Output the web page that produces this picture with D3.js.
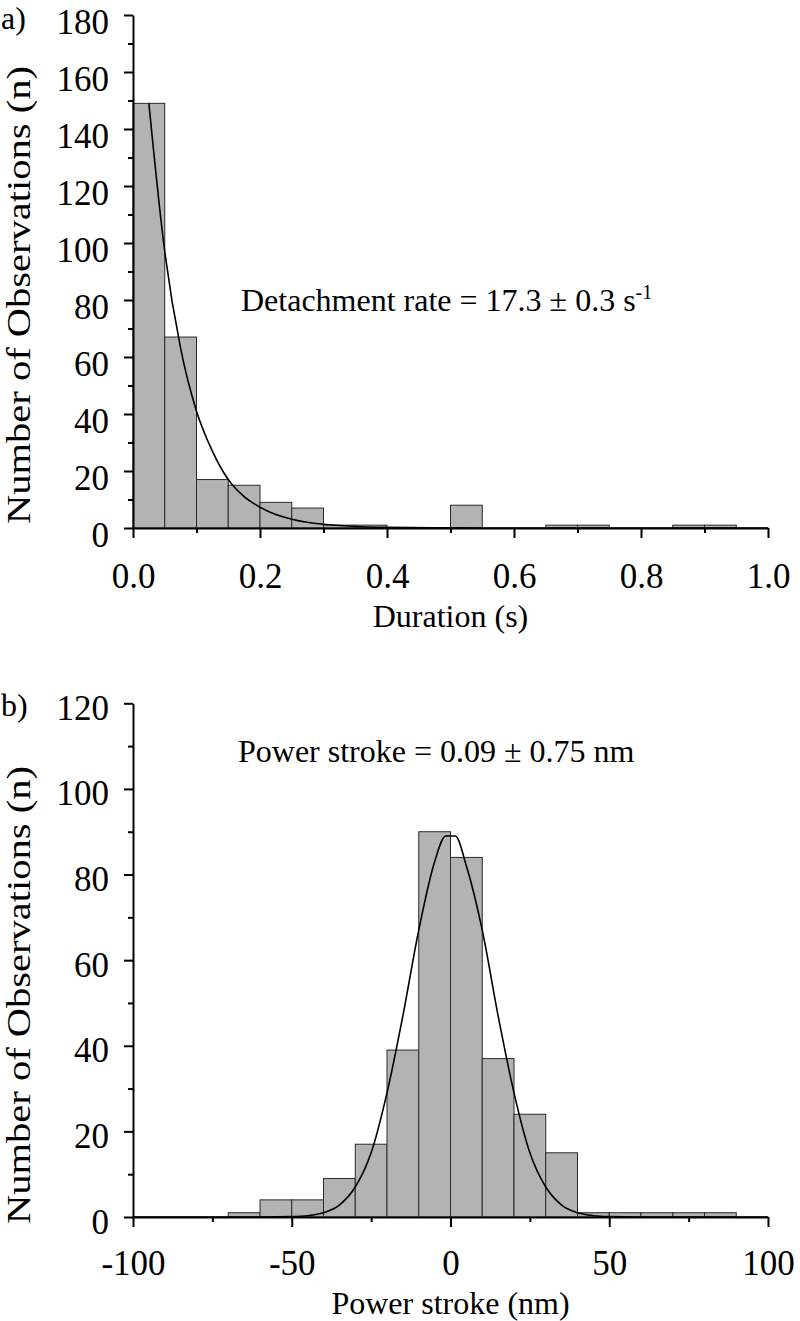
<!DOCTYPE html>
<html>
<head>
<meta charset="utf-8">
<script src="https://cdn.jsdelivr.net/npm/d3@7"></script>
<style>
  html, body { margin: 0; padding: 0; background: #fff; }
  svg { display: block; font-family: "Liberation Serif", "Times New Roman", serif; }
</style>
</head>
<body>
<svg id="chart" width="800" height="1321"></svg>
<script>
// ---------------- DATA ----------------
// Panel a: detachment durations (bin width 0.05 s)
const durationBinStarts = [0, 0.05, 0.10, 0.15, 0.20, 0.25, 0.30, 0.35, 0.40, 0.45, 0.50, 0.55, 0.60, 0.65, 0.70, 0.75, 0.80, 0.85, 0.90, 0.95];
const durationCounts    = [149, 67, 17, 15, 9, 7, 1, 1, 0, 0, 8, 0, 0, 1, 1, 0, 0, 1, 1, 0];
const durationBinWidth = 0.05;
// Fitted exponential curve
const durationFitX = [0.025, 0.05, 0.075, 0.10, 0.125, 0.15, 0.175, 0.20, 0.225, 0.25, 0.30, 0.35, 0.40, 0.50, 0.60, 1.00];
const durationFitY = [149, 97, 63, 41, 27, 17, 11, 7.3, 4.7, 3.1, 1.3, 0.55, 0.25, 0.05, 0, 0];
const durationYTicks = [0, 20, 40, 60, 80, 100, 120, 140, 160, 180];
const durationXTicks = [0, 0.2, 0.4, 0.6, 0.8, 1.0];
const durationXMinor = [0.1, 0.3, 0.5, 0.7, 0.9];
const durationAnnotation = "Detachment rate = 17.3 \u00B1 0.3 s";
const durationAnnotationSup = "-1";

// Panel b: power stroke (bin width 10 nm)
const strokeBinStarts = [-70, -60, -50, -40, -30, -20, -10, 0, 10, 20, 30, 40, 50, 60, 70, 80];
const strokeCounts    = [1, 4, 4, 9, 17, 39, 90, 84, 37, 24, 15, 1, 1, 1, 1, 1];
const strokeBinWidth = 10;
// Fitted Gaussian curve
const strokeFitX = [-100, -60, -50, -45, -40, -35, -30, -25, -20, -15, -10, -5, -1.5, 1.5, 5, 10, 15, 20, 25, 30, 35, 40, 45, 50, 60, 100];
const strokeFitY = [0, 0, 0.08, 0.3, 1, 2.8, 7, 15, 29, 47, 67, 83, 89, 89, 82, 67, 47, 29, 15, 7, 2.8, 1, 0.3, 0.08, 0, 0];
const strokeYTicks = [0, 20, 40, 60, 80, 100, 120];
const strokeXTicks = [-100, -50, 0, 50, 100];
const strokeXMinor = [-75, -25, 25, 75];
const strokeAnnotation = "Power stroke = 0.09 \u00B1 0.75 nm";

const yTitle = "Number of Observations (n)";

// ---------------- DRAW ----------------
const svg = d3.select("#chart");

function panel(cfg) {
  const g = svg.append("g");
  const x = d3.scaleLinear().domain(cfg.xDomain).range([133, 768]);
  const y = d3.scaleLinear().domain(cfg.yDomain).range([cfg.yBottom, cfg.yTop]);

  // bars
  const bins = cfg.binStarts.map((s, i) => ({s, c: cfg.counts[i]})).filter(d => d.c > 0);
  g.selectAll("rect.bar").data(bins).enter().append("rect")
    .attr("class", "bar")
    .attr("x", d => x(d.s))
    .attr("width", d => x(d.s + cfg.binWidth) - x(d.s))
    .attr("y", d => y(d.c))
    .attr("height", d => y(0) - y(d.c))
    .attr("fill", "#b3b3b3")
    .attr("stroke", "#2a2a2a")
    .attr("stroke-width", 1);

  // fit curve
  const pts = cfg.fitX.map((v, i) => [v, cfg.fitY[i]]);
  g.append("path")
    .datum(pts)
    .attr("fill", "none")
    .attr("stroke", "#000")
    .attr("stroke-width", 1.6)
    .attr("d", d3.line().x(d => x(d[0])).y(d => y(d[1])).curve(d3.curveMonotoneX));

  // y axis minor ticks
  const yMinor = [];
  for (let i = 0; i < cfg.yTicks.length - 1; i++) yMinor.push((cfg.yTicks[i] + cfg.yTicks[i + 1]) / 2);
  g.append("g").attr("transform", "translate(133,0)")
    .call(d3.axisLeft(y).tickValues(yMinor).tickSize(5).tickSizeOuter(0).tickFormat(""))
    .call(s => s.select(".domain").remove())
    .call(s => s.selectAll("line").attr("stroke-width", 2));

  // y axis major
  g.append("g").attr("transform", "translate(133,0)")
    .call(d3.axisLeft(y).tickValues(cfg.yTicks).tickSize(9).tickSizeOuter(0).tickPadding(15).tickFormat(d => String(d)))
    .call(s => s.select(".domain").attr("stroke-width", 2))
    .call(s => s.selectAll("line").attr("stroke-width", 2))
    .call(s => s.selectAll("text").attr("dy", 0).attr("y", cfg.yLabelOffset)
      .attr("font-family", "Liberation Serif").attr("font-size", 35).attr("fill", "#000"));

  // x axis minor
  g.append("g").attr("transform", `translate(0,${cfg.yBottom})`)
    .call(d3.axisBottom(x).tickValues(cfg.xMinor).tickSize(5).tickSizeOuter(0).tickFormat(""))
    .call(s => s.select(".domain").remove())
    .call(s => s.selectAll("line").attr("stroke-width", 2));

  // x axis major
  g.append("g").attr("transform", `translate(0,${cfg.yBottom})`)
    .call(d3.axisBottom(x).tickValues(cfg.xTicks).tickSize(10).tickSizeOuter(0).tickFormat(cfg.xFormat))
    .call(s => s.select(".domain").attr("stroke-width", 2))
    .call(s => s.selectAll("line").attr("stroke-width", 2))
    .call(s => s.selectAll("text").attr("dy", 0).attr("y", cfg.xLabelOffset)
      .attr("font-family", "Liberation Serif").attr("font-size", 35).attr("fill", "#000"));

  // x title
  g.append("text")
    .attr("x", 450.5).attr("y", cfg.yBottom + cfg.xTitleOffset)
    .attr("text-anchor", "middle").attr("font-size", 32)
    .text(cfg.xTitle);

  // y title
  g.append("text")
    .attr("transform", `translate(30,${cfg.yTitleCenter}) rotate(-90)`)
    .attr("text-anchor", "middle").attr("font-size", 33)
    .attr("textLength", 458).attr("lengthAdjust", "spacingAndGlyphs")
    .text(yTitle);

  // panel letter
  g.append("text")
    .attr("x", 1).attr("y", cfg.letterY)
    .attr("font-size", 32)
    .text(cfg.letter);

  // annotation
  const ann = g.append("text")
    .attr("x", cfg.annX).attr("y", cfg.annY)
    .attr("font-size", 32)
    .text(cfg.annotation);
  if (cfg.annotationSup) {
    ann.append("tspan").attr("dy", -12).attr("font-size", 20).text(cfg.annotationSup);
  }
}

panel({
  xDomain: [0, 1], yDomain: [0, 180], yTop: 15, yBottom: 528,
  binStarts: durationBinStarts, counts: durationCounts, binWidth: durationBinWidth,
  fitX: durationFitX, fitY: durationFitY,
  yTicks: durationYTicks, xTicks: durationXTicks, xMinor: durationXMinor,
  xFormat: d3.format(".1f"),
  yLabelOffset: 18, xLabelOffset: 60, xTitleOffset: 99,
  xTitle: "Duration (s)", yTitleCenter: 295,
  letter: "a)", letterY: 29,
  annotation: durationAnnotation, annotationSup: durationAnnotationSup, annX: 241, annY: 311
});

panel({
  xDomain: [-100, 100], yDomain: [0, 120], yTop: 703.3, yBottom: 1217,
  binStarts: strokeBinStarts, counts: strokeCounts, binWidth: strokeBinWidth,
  fitX: strokeFitX, fitY: strokeFitY,
  yTicks: strokeYTicks, xTicks: strokeXTicks, xMinor: strokeXMinor,
  xFormat: d => String(d),
  yLabelOffset: 16, xLabelOffset: 58, xTitleOffset: 97,
  xTitle: "Power stroke (nm)", yTitleCenter: 995,
  letter: "b)", letterY: 716,
  annotation: strokeAnnotation, annotationSup: null, annX: 238, annY: 762
});
</script>
</body>
</html>
